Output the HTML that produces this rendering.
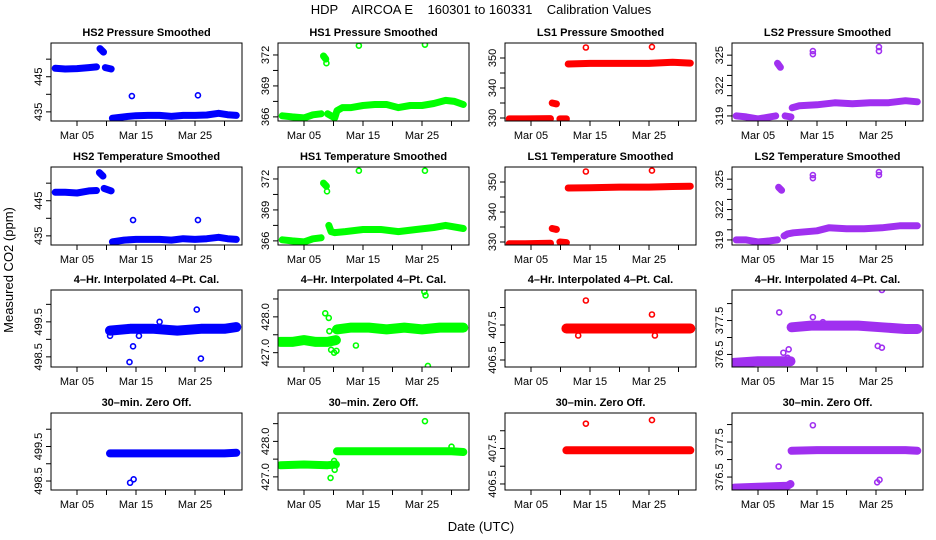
<!DOCTYPE html>
<html><head><meta charset="utf-8">
<style>
html,body{margin:0;padding:0;background:#fff;}
svg{display:block;font-family:"Liberation Sans",Arial,sans-serif;}
.pre{white-space:pre;}
</style></head>
<body>
<svg id="chart" width="936" height="540" viewBox="0 0 936 540">
<text class="pre" x="481" y="14" text-anchor="middle" font-size="13">HDP    AIRCOA E    160301 to 160331    Calibration Values</text>
<text x="481" y="531" text-anchor="middle" font-size="13">Date (UTC)</text>
<text transform="translate(13,270) rotate(-90)" text-anchor="middle" font-size="13">Measured CO2 (ppm)</text>
</svg>
<script>
// x tick data (day of March)
const xTickDays = [5,10,15,20,25,30];
const xTickLabels = ["Mar 05","","Mar 15","","Mar 25",""];

// Panel data: day of March & CO2 values (null breaks band)
const p1Days=[1.3,3,5,7,8.3,null,8.9,9.5,null,9.8,10.8,null,11,13,15,17,19,21,23,25,27,29,30.5,32];
const p1Vals=[447.4,447.2,447.3,447.6,447.8,null,453,452,null,447.6,447.2,null,433.2,433.6,433.9,434,434,433.7,434,434,434.1,434.6,434.2,434];
const p1OutDays=[14.3,25.5]; const p1OutVals=[439.5,439.7];

const p2Days=[1.3,3,5,6.5,7.9,null,8.3,8.7,null,9,9.6,10.2,10.6,11.5,13,15,17,19,21,23,25,27,29,30.5,32];
const p2Vals=[366.1,366.0,365.9,366.2,366.3,null,371.9,371.6,null,366.3,366.1,365.9,366.6,366.9,366.9,367.1,367.2,367.2,366.9,367.1,367.1,367.3,367.6,367.5,367.2];
const p2OutDays=[8.8,14.3,25.5]; const p2OutVals=[371.2,372.9,373.0];

const p3Days=[1.3,4,8.3,null,8.6,9.3,null,9.9,11,null,11.3,15,20,25,29,32];
const p3Vals=[329.7,329.7,329.8,null,335,334.7,null,329.7,329.7,null,348,348.2,348.2,348.2,348.6,348.3];
const p3OutDays=[14.3,25.5]; const p3OutVals=[353.5,353.7];

const p4Days=[1.3,3,5,7,8,null,8.3,8.8,null,9.6,10.6,null,10.8,12,15,18,21,24,27,30,32];
const p4Vals=[319,318.9,318.7,318.9,319,null,324.2,323.8,null,319,318.9,null,319.8,320,320.1,320.3,320.2,320.3,320.3,320.5,320.4];
const p4OutDays=[14.3,14.3,25.5,25.5]; const p4OutVals=[325.4,325.1,325.8,325.4];

const p5Days=[1.3,3,5,7,8.3,null,8.8,9.4,null,9.6,10.8,null,11,13,15,17,19,21,23,25,27,29,30.5,32];
const p5Vals=[447.4,447.4,447.2,447.8,447.9,null,453,452,null,448.5,447.8,null,433.3,433.8,434,434,434,433.8,434.2,434,434.2,434.6,434.2,434];
const p5OutDays=[14.5,25.5]; const p5OutVals=[439.5,439.5];

const p6Days=[1.3,3,5,6.5,7.9,null,8.3,8.8,null,9.2,9.6,10.2,12,15,18,21,24,27,29,32];
const p6Vals=[366.1,366.0,365.9,366.2,366.3,null,371.6,371.3,null,367.5,366.9,366.8,366.9,367.1,367.1,366.9,367.1,367.3,367.5,367.2];
const p6OutDays=[8.9,14.3,25.5]; const p6OutVals=[370.8,372.8,372.8];

const p7Days=[1.3,4,8.3,null,8.6,9.3,null,9.9,11,null,11.3,15,20,25,29,32];
const p7Vals=[329.4,329.4,329.6,null,334.5,334.2,null,330,329.8,null,348,348.1,348.3,348.3,348.5,348.6];
const p7OutDays=[14.3,25.5]; const p7OutVals=[353.5,353.8];

const p8Days=[1.3,3,5,7,8.3,null,8.5,9.0,null,9.4,10,11,13,15,17,20,23,26,29,32];
const p8Vals=[319,319,318.8,318.9,319,null,324.2,323.9,null,319.4,319.6,319.7,319.8,319.9,320.2,320.1,320.1,320.2,320.4,320.4];
const p8OutDays=[14.3,14.3,25.5,25.5]; const p8OutVals=[325.4,325.1,325.7,325.4];

const p9Days=[10.6,14,18,22,26,30,32];
const p9Vals=[499.25,499.3,499.3,499.25,499.3,499.3,499.35];
const p9OutDays=[10.6,13.9,14.5,15.5,19,25.3,26]; const p9OutVals=[499.1,498.35,498.8,499.1,499.5,499.85,498.45];

const p10Days=[1,3,5,7,9,10.4,null,10.6,13,16,19,22,25,28,32];
const p10Vals=[427.3,427.3,427.35,427.3,427.3,427.35,null,427.65,427.7,427.7,427.65,427.7,427.65,427.7,427.7];
const p10OutDays=[8.6,9.2,9.6,10.1,10.5,13.8,25.4,25.6,26,9.3]; const p10OutVals=[428.1,427.97,427.08,427.0,427.05,427.2,428.7,428.6,426.63,427.6];

const p11Days=[11,15,20,25,30,32];
const p11Vals=[407.4,407.4,407.4,407.4,407.4,407.4];
const p11OutDays=[13,14.3,25.5,26]; const p11OutVals=[407.2,408.2,407.8,407.2];

const p12Days=[1,5,10.5,null,10.7,14,18,22,26,30,32];
const p12Vals=[376.25,376.3,376.3,null,377.3,377.35,377.35,377.35,377.3,377.25,377.25];
const p12OutDays=[8.6,9.3,10,10.2,14.3,25.3,26,26,16]; const p12OutVals=[377.74,376.55,376.4,376.65,377.6,376.75,376.7,378.4,377.45];

const p13Days=[10.6,15,20,25,30,32];
const p13Vals=[499.3,499.3,499.3,499.3,499.3,499.32];
const p13OutDays=[14,14.6]; const p13OutVals=[498.45,498.55];

const p14Days=[1,5,9,10.4,null,10.6,15,20,25,30,32];
const p14Vals=[427.33,427.35,427.33,427.35,null,427.72,427.72,427.72,427.72,427.72,427.7];
const p14OutDays=[9.5,10.2,25.5,30,10.1]; const p14OutVals=[426.97,427.2,428.57,427.85,427.45];

const p15Days=[11,15,20,25,30,32];
const p15Vals=[407.45,407.45,407.45,407.45,407.45,407.45];
const p15OutDays=[14.3,25.5]; const p15OutVals=[408.2,408.3];

const p16Days=[1,5,10,10.5,null,10.7,15,20,25,30,32];
const p16Vals=[376.2,376.22,376.25,376.3,null,377.25,377.27,377.27,377.27,377.27,377.25];
const p16OutDays=[8.5,14.3,25.2,25.6]; const p16OutVals=[376.8,377.98,376.35,376.42];

// Axis tick values
const ticksHS2 = [435,440,445,450]; const labHS2=["435","","445",""];
const ticksHS1 = [366,367.5,369,370.5,372]; const labHS1=["366","","369","","372"];
const ticksLS1 = [330,335,340,345,350]; const labLS1=["330","","340","","350"];
const ticksLS2 = [319,320,321,322,323,324,325]; const labLS2=["319","","","322","","","325"];
const ticksC2 = [498.5,499,499.5,500]; const labC2=["498.5","","499.5",""];
const ticksC1 = [427,427.5,428,428.5]; const labC1=["427.0","","428.0",""];
const ticksC3 = [406.5,407,407.5,408]; const labC3=["406.5","","407.5",""];
const ticksC4 = [376.5,377,377.5,378]; const labC4=["376.5","","377.5",""];

const BLUE="#0000ff", GREEN="#00ff00", RED="#ff0000", PURP="#a030f0";
const lefts=[51,278,505,732], tops=[43,167,290,413], W=191;
const panels=[
 {t:"HS2 Pressure Smoothed",c:0,r:0,y:[432.4,454.6],tk:ticksHS2,tl:labHS2,col:BLUE,bw:7,d:p1Days,v:p1Vals,od:p1OutDays,ov:p1OutVals},
 {t:"HS1  Pressure Smoothed",c:1,r:0,y:[365.6,373.16],tk:ticksHS1,tl:labHS1,col:GREEN,bw:7,d:p2Days,v:p2Vals,od:p2OutDays,ov:p2OutVals},
 {t:"LS1 Pressure Smoothed",c:2,r:0,y:[329,355],tk:ticksLS1,tl:labLS1,col:RED,bw:7,d:p3Days,v:p3Vals,od:p3OutDays,ov:p3OutVals},
 {t:"LS2 Pressure Smoothed",c:3,r:0,y:[318.5,326.2],tk:ticksLS2,tl:labLS2,col:PURP,bw:7,d:p4Days,v:p4Vals,od:p4OutDays,ov:p4OutVals},
 {t:"HS2 Temperature Smoothed",c:0,r:1,y:[432.4,454.6],tk:ticksHS2,tl:labHS2,col:BLUE,bw:7,d:p5Days,v:p5Vals,od:p5OutDays,ov:p5OutVals},
 {t:"HS1 Temperature Smoothed",c:1,r:1,y:[365.6,373.16],tk:ticksHS1,tl:labHS1,col:GREEN,bw:7,d:p6Days,v:p6Vals,od:p6OutDays,ov:p6OutVals},
 {t:"LS1 Temperature Smoothed",c:2,r:1,y:[329,355],tk:ticksLS1,tl:labLS1,col:RED,bw:7,d:p7Days,v:p7Vals,od:p7OutDays,ov:p7OutVals},
 {t:"LS2 Temperature Smoothed",c:3,r:1,y:[318.5,326.2],tk:ticksLS2,tl:labLS2,col:PURP,bw:7,d:p8Days,v:p8Vals,od:p8OutDays,ov:p8OutVals},
 {t:"4\u2013Hr. Interpolated 4\u2013Pt. Cal.",c:0,r:2,y:[498.21,500.41],tk:ticksC2,tl:labC2,col:BLUE,bw:10,d:p9Days,v:p9Vals,od:p9OutDays,ov:p9OutVals},
 {t:"4\u2013Hr. Interpolated 4\u2013Pt. Cal.",c:1,r:2,y:[426.6,428.75],tk:ticksC1,tl:labC1,col:GREEN,bw:10,d:p10Days,v:p10Vals,od:p10OutDays,ov:p10OutVals},
 {t:"4\u2013Hr. Interpolated 4\u2013Pt. Cal.",c:2,r:2,y:[406.3,408.5],tk:ticksC3,tl:labC3,col:RED,bw:10,d:p11Days,v:p11Vals,od:p11OutDays,ov:p11OutVals},
 {t:"4\u2013Hr. Interpolated 4\u2013Pt. Cal.",c:3,r:2,y:[376.13,378.4],tk:ticksC4,tl:labC4,col:PURP,bw:10,d:p12Days,v:p12Vals,od:p12OutDays,ov:p12OutVals},
 {t:"30\u2013min. Zero Off.",c:0,r:3,y:[498.24,500.47],tk:ticksC2,tl:labC2,col:BLUE,bw:8,d:p13Days,v:p13Vals,od:p13OutDays,ov:p13OutVals},
 {t:"30\u2013min. Zero Off.",c:1,r:3,y:[426.63,428.8],tk:ticksC1,tl:labC1,col:GREEN,bw:8,d:p14Days,v:p14Vals,od:p14OutDays,ov:p14OutVals},
 {t:"30\u2013min. Zero Off.",c:2,r:3,y:[406.33,408.5],tk:ticksC3,tl:labC3,col:RED,bw:8,d:p15Days,v:p15Vals,od:p15OutDays,ov:p15OutVals},
 {t:"30\u2013min. Zero Off.",c:3,r:3,y:[376.13,378.33],tk:ticksC4,tl:labC4,col:PURP,bw:8,d:p16Days,v:p16Vals,od:p16OutDays,ov:p16OutVals}
];
const NS="http://www.w3.org/2000/svg";
const svg=document.getElementById("chart");
function mk(tag,attrs,parent){const e=document.createElementNS(NS,tag);for(const k in attrs)e.setAttribute(k,attrs[k]);(parent||svg).appendChild(e);return e;}
panels.forEach((p,i)=>{
  const L=lefts[p.c], T=tops[p.r], H=(p.r<2?78:77), B=T+H, R=L+W;
  const xs=d=>L+26+(d-5)*5.9;
  const ys=v=>B-(v-p.y[0])/(p.y[1]-p.y[0])*H;
  const g=mk("g",{});
  
  
  const title=mk("text",{x:(L+R)/2,y:T-7,"text-anchor":"middle","font-size":"11","font-weight":"bold"},g);
  title.textContent=p.t;
  
  
  const cp=mk("clipPath",{id:"cp"+i},g); mk("rect",{x:L,y:T,width:W,height:H},cp);
  const marks=mk("g",{"clip-path":"url(#cp"+i+")"},g);
  let seg=[];
  const flush=()=>{ if(seg.length){ const pl=mk("polyline",{points:seg.join(" "),fill:"none",stroke:p.col,"stroke-width":p.bw,"stroke-linecap":"round","stroke-linejoin":"round"},marks);
      
       } seg=[]; };
  for(let k=0;k<p.d.length;k++){ if(p.d[k]===null||p.v[k]===null){flush();continue;} seg.push(xs(p.d[k]).toFixed(1)+","+ys(p.v[k]).toFixed(1)); }
  flush();
  for(let k=0;k<p.od.length;k++){
    const c=mk("circle",{cx:xs(p.od[k]),cy:ys(p.ov[k]),r:2.5,fill:"none",stroke:p.col,"stroke-width":1.6},marks);
    
    
  }
  const fr=mk("rect",{x:L,y:T,width:W,height:H,fill:"none",stroke:"#000","stroke-width":1},g);
  
  
  xTickDays.forEach((d,k)=>{
    const x=xs(d);
    mk("line",{x1:x,y1:B,x2:x,y2:B+5,stroke:"#000"},g);
    if(xTickLabels[k]){const t=mk("text",{x:x,y:B+18,"text-anchor":"middle","font-size":"11"},g);t.textContent=xTickLabels[k];
      
      }
  });
  p.tk.forEach((v,k)=>{
    const y=ys(v);
    mk("line",{x1:L-5,y1:y,x2:L,y2:y,stroke:"#000"},g);
    if(p.tl[k]){const t=mk("text",{transform:"translate("+(L-9)+","+y+") rotate(-90)","text-anchor":"middle","font-size":"11"},g);t.textContent=p.tl[k];
      
      }
  });
});
</script>
</body></html>
